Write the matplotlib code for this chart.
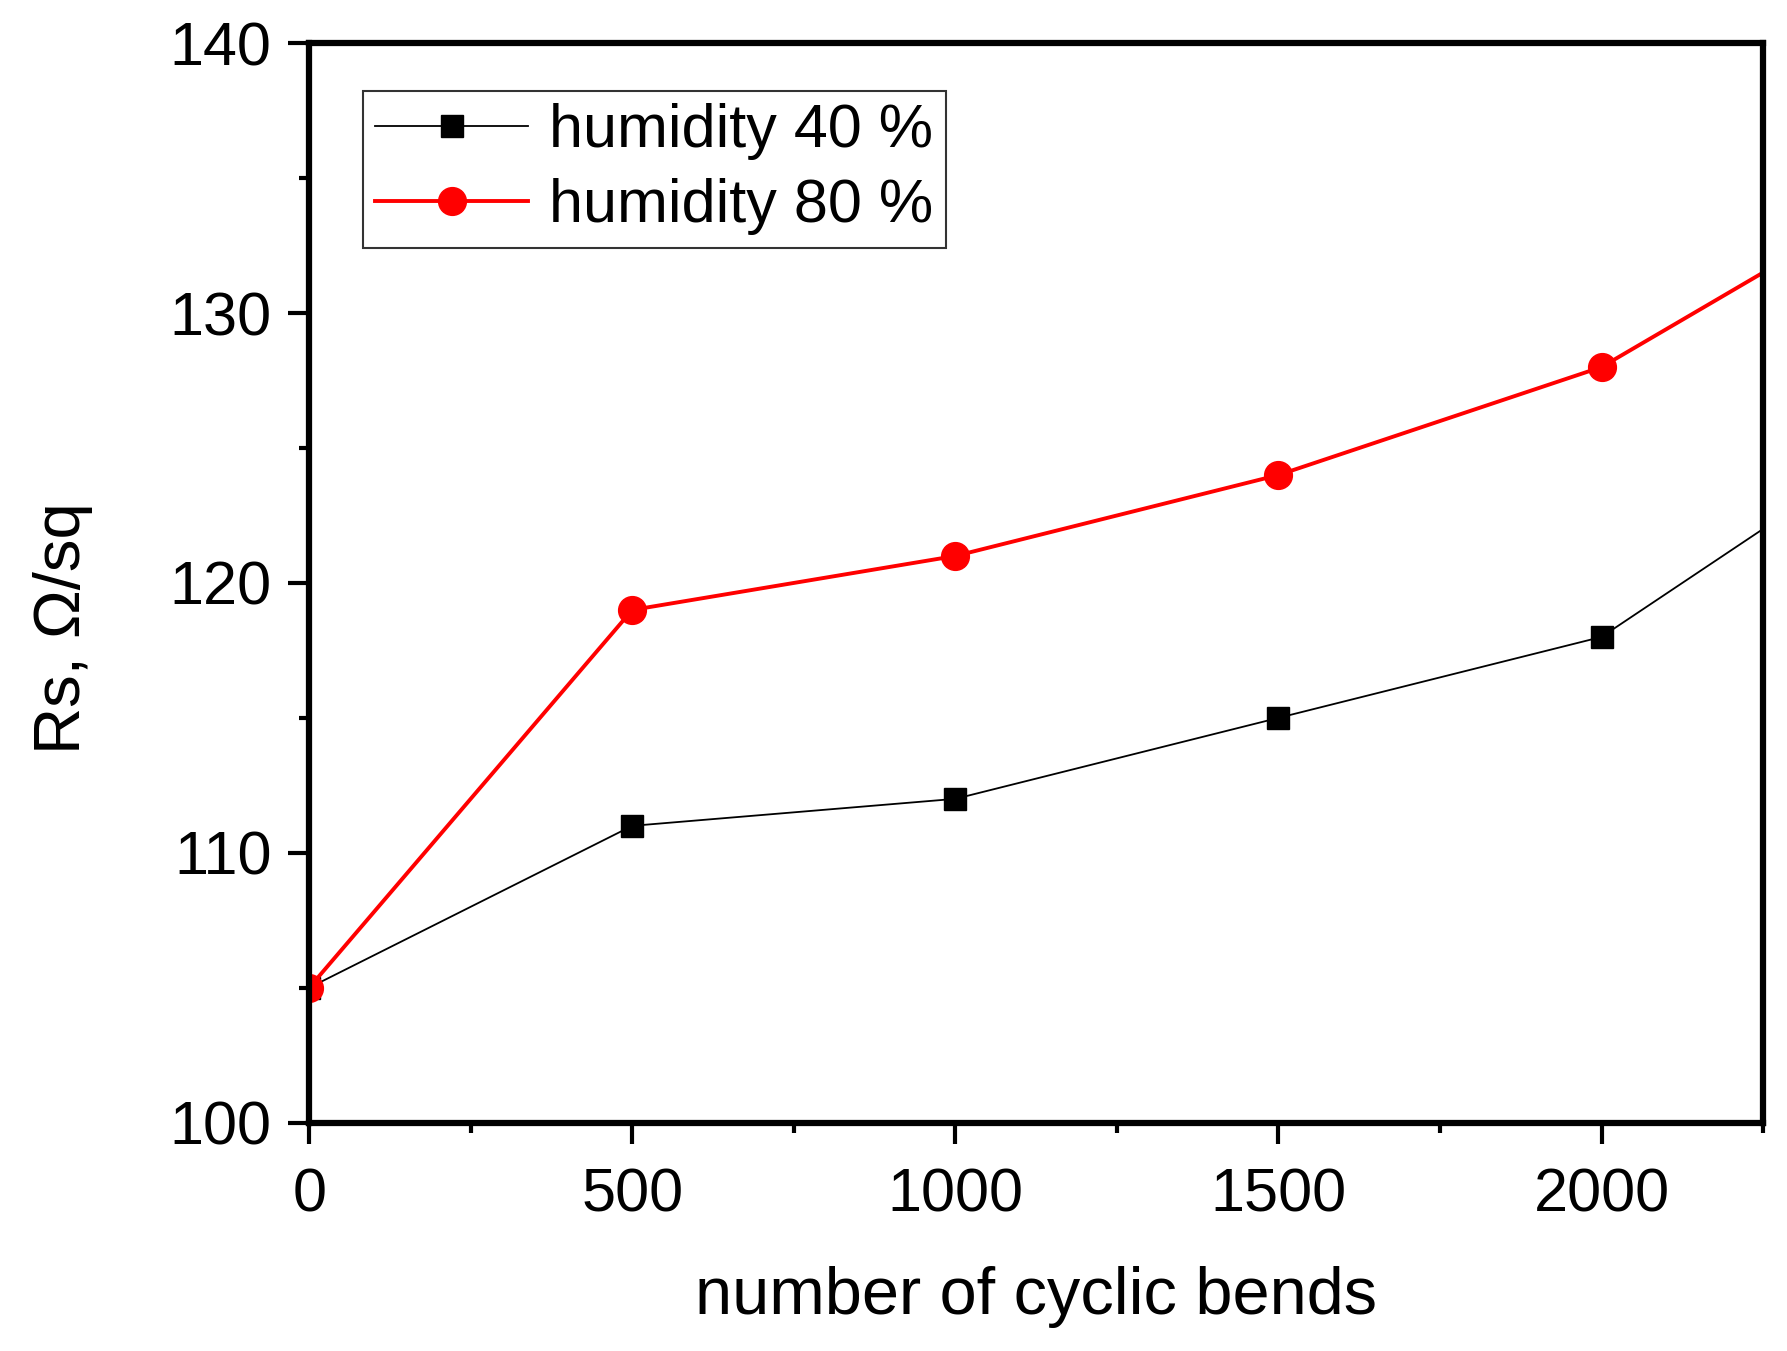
import matplotlib
matplotlib.use("Agg")
import matplotlib.pyplot as plt
from matplotlib.ticker import MultipleLocator

plt.rcParams['font.family'] = ['Liberation Sans', 'DejaVu Sans']

# number of cyclic bends vs sheet resistance
bends = [0, 500, 1000, 1500, 2000, 2500]
rs_40 = [105, 111, 112, 115, 118, 126]
rs_80 = [105, 119, 121, 124, 128, 135]

fig = plt.figure(figsize=(17.87, 13.51), dpi=100)
ax = fig.add_axes([0.173, 0.169, 0.8136, 0.799])

ax.plot(bends, rs_40, color='black', lw=1.3, marker='s', ms=16,
        label='humidity 40 %')
ax.plot(bends, rs_80, color='red', lw=2.8, marker='o', ms=20,
        label='humidity 80 %')

ax.set_xlim(0, 2250)
ax.set_ylim(100, 140)
ax.xaxis.set_major_locator(MultipleLocator(500))
ax.xaxis.set_minor_locator(MultipleLocator(250))
ax.yaxis.set_major_locator(MultipleLocator(10))
ax.yaxis.set_minor_locator(MultipleLocator(5))

for s in ax.spines.values():
    s.set_linewidth(4.5)
ax.tick_params(which='both', direction='out', width=3, labelsize=44,
               top=False, right=False)
ax.tick_params(which='major', length=15)
ax.tick_params(which='minor', length=7)
ax.tick_params(axis='x', pad=17)
ax.tick_params(axis='y', pad=12)

ax.set_xlabel('number of cyclic bends', fontsize=48, labelpad=30)
ax.set_ylabel('Rs, \u03a9/sq', fontsize=47)
ax.yaxis.set_label_coords(-0.149, 0.458)

leg = ax.legend(loc='upper left', bbox_to_anchor=(0.037, 0.956),
                fontsize=44, frameon=True, fancybox=False, borderaxespad=0,
                handlelength=2.5, borderpad=0.2, labelspacing=0.3,
                handletextpad=0.35)
leg.get_frame().set_edgecolor('black')
leg.get_frame().set_linewidth(1.5)

fig.savefig('out.png', dpi=100)
